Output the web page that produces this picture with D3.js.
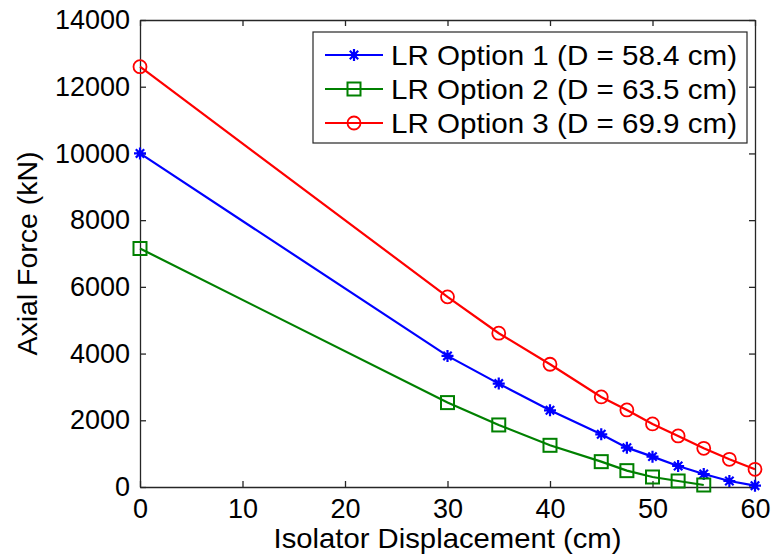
<!doctype html>
<html lang="en">
<head>
	<meta charset="UTF-8">
	<title>Axial Force vs Isolator Displacement</title>
	<script src="https://cdn.jsdelivr.net/npm/d3@7/dist/d3.min.js"></script>
	<style>
		body { margin: 0; background: #fff; }
		text { font-family: "Liberation Sans", Arial, sans-serif; fill: #000; }
	</style>
</head>
<body>
<div id="container"></div>
<script>
	var width = 771, height = 556;
	var margin = { left: 140, top: 20, right: 16, bottom: 69 };
	var g_width = width - margin.left - margin.right;
	var g_height = height - margin.top - margin.bottom;

	// displacement (cm) at which each option was evaluated
	var disp = [0, 30, 35, 40, 45, 47.5, 50, 52.5, 55, 57.5, 60];
	var disp2 = [0, 30, 35, 40, 45, 47.5, 50, 52.5, 55];

	// axial force (kN)
	var option1 = [10000, 3930, 3100, 2300, 1580, 1180, 910, 630, 390, 180, 40];
	var option2 = [7150, 2530, 1860, 1250, 760, 490, 300, 180, 60];
	var option3 = [12600, 5700, 4610, 3680, 2700, 2310, 1890, 1530, 1160, 830, 530];

	var names = ["LR Option 1 (D = 58.4 cm)", "LR Option 2 (D = 63.5 cm)", "LR Option 3 (D = 69.9 cm)"];
	var colors = ["#0000ff", "#008000", "#ff0000"];
	var markers = ["star", "square", "circle"];

	var x_ticks = [0, 10, 20, 30, 40, 50, 60];
	var y_ticks = [0, 2000, 4000, 6000, 8000, 10000, 12000, 14000];

	var series = [
		{ name: names[0], color: colors[0], marker: markers[0], x: disp, y: option1 },
		{ name: names[1], color: colors[1], marker: markers[1], x: disp2, y: option2 },
		{ name: names[2], color: colors[2], marker: markers[2], x: disp, y: option3 }
	];

	var scale_x = d3.scaleLinear().domain([0, 60]).range([0, g_width]);
	var scale_y = d3.scaleLinear().domain([0, 14000]).range([g_height, 0]);

	var svg = d3.select("#container")
			.append("svg")
			.attr("width", width)
			.attr("height", height);

	var g = svg.append("g")
			.attr("transform", "translate(" + margin.left + "," + margin.top + ")");

	// axes: ticks point inward on all four sides
	var tick_len = 6;
	g.append("g")
			.attr("class", "x axis")
			.attr("transform", "translate(0," + g_height + ")")
			.call(d3.axisBottom(scale_x).tickValues(x_ticks).tickSizeInner(-tick_len).tickSizeOuter(0).tickPadding(12));
	g.append("g")
			.attr("class", "y axis")
			.call(d3.axisLeft(scale_y).tickValues(y_ticks).tickFormat(d3.format("d"))
					.tickSizeInner(-tick_len).tickSizeOuter(0).tickPadding(10));
	g.append("g")
			.attr("class", "axis top")
			.call(d3.axisTop(scale_x).tickValues(x_ticks).tickSizeInner(-tick_len).tickSizeOuter(0).tickFormat(""));
	g.append("g")
			.attr("class", "axis right")
			.attr("transform", "translate(" + g_width + ",0)")
			.call(d3.axisRight(scale_y).tickValues(y_ticks).tickSizeInner(-tick_len).tickSizeOuter(0).tickFormat(""));

	g.selectAll(".axis path, .axis line")
			.attr("stroke", "#262626")
			.attr("stroke-width", 1.3);
	g.selectAll(".axis text")
			.attr("font-size", "27px")
			.attr("fill", "#000");
	g.selectAll(".x.axis text").attr("dy", "0.71em");

	var line_generator = d3.line()
			.x(function (d) { return scale_x(d[0]); })
			.y(function (d) { return scale_y(d[1]); });

	function draw_marker(sel, type, color) {
		if (type === "circle") {
			sel.append("circle").attr("r", 6.5)
					.attr("fill", "none").attr("stroke", color).attr("stroke-width", 1.8);
		} else if (type === "square") {
			sel.append("rect").attr("x", -6.5).attr("y", -6.5).attr("width", 13).attr("height", 13)
					.attr("fill", "none").attr("stroke", color).attr("stroke-width", 2);
		} else {
			sel.append("path")
					.attr("d", "M-6,0H6M0,-6V6M-4.2,-4.2L4.2,4.2M-4.2,4.2L4.2,-4.2")
					.attr("stroke", color).attr("stroke-width", 2.2);
			sel.append("circle").attr("r", 3).attr("fill", color);
		}
	}

	series.forEach(function (s) {
		var pts = s.x.map(function (v, i) { return [v, s.y[i]]; });
		g.append("path")
				.attr("d", line_generator(pts))
				.attr("fill", "none")
				.attr("stroke", s.color)
				.attr("stroke-width", 2.2);
		g.selectAll(null)
				.data(pts)
				.enter()
				.append("g")
				.attr("transform", function (d) { return "translate(" + scale_x(d[0]) + "," + scale_y(d[1]) + ")"; })
				.each(function () { draw_marker(d3.select(this), s.marker, s.color); });
	});

	// axis labels (stretched slightly wider than the font's natural width)
	svg.append("text")
			.attr("x", margin.left + g_width / 2)
			.attr("y", 548)
			.attr("text-anchor", "middle")
			.attr("font-size", "28px")
			.attr("textLength", 348)
			.attr("lengthAdjust", "spacingAndGlyphs")
			.text("Isolator Displacement (cm)");
	svg.append("text")
			.attr("transform", "translate(37," + (margin.top + g_height / 2) + ") rotate(-90)")
			.attr("text-anchor", "middle")
			.attr("font-size", "28px")
			.attr("textLength", 204)
			.attr("lengthAdjust", "spacingAndGlyphs")
			.text("Axial Force (kN)");

	// legend
	var legend = svg.append("g").attr("transform", "translate(313,32)");
	legend.append("rect")
			.attr("width", 434).attr("height", 111)
			.attr("fill", "#fff").attr("stroke", "#262626").attr("stroke-width", 1.2);
	series.forEach(function (s, i) {
		var row = legend.append("g").attr("transform", "translate(0," + (23 + i * 34) + ")");
		row.append("line")
				.attr("x1", 12).attr("x2", 70)
				.attr("stroke", s.color).attr("stroke-width", 2.2);
		draw_marker(row.append("g").attr("transform", "translate(41,0)"), s.marker, s.color);
		row.append("text")
				.attr("x", 78).attr("dy", "0.36em")
				.attr("font-size", "28px")
				.attr("textLength", 346)
				.attr("lengthAdjust", "spacingAndGlyphs")
				.text(s.name);
	});
</script>
</body>
</html>
